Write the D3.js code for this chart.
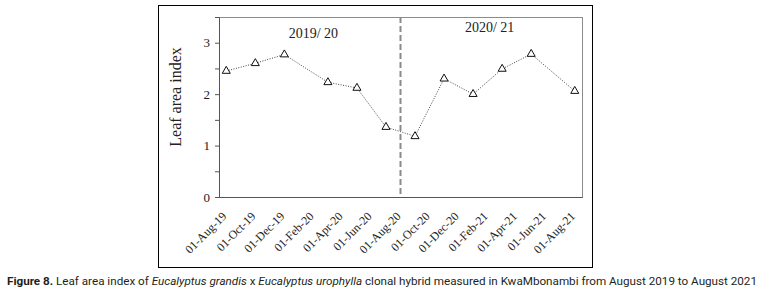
<!DOCTYPE html>
<meta charset="utf-8" />
<script src="https://d3js.org/d3.v7.min.js"></script>
<style>
  body { margin: 0; background: #fff; }
</style>
<div id="chart"></div>
<script>
  // data (sampling month, leaf area index)
  const dates = ["2019-08", "2019-10", "2019-12", "2020-03", "2020-05", "2020-07",
                 "2020-09", "2020-11", "2021-01", "2021-03", "2021-05", "2021-08"];
  const lai = [2.45, 2.60, 2.77, 2.23, 2.12, 1.36, 1.18, 2.30, 2.00, 2.49, 2.78, 2.06];
  const tickLabels = ["01-Aug-19", "01-Oct-19", "01-Dec-19", "01-Feb-20", "01-Apr-20",
                      "01-Jun-20", "01-Aug-20", "01-Oct-20", "01-Dec-20", "01-Feb-21",
                      "01-Apr-21", "01-Jun-21", "01-Aug-21"];
  const seasons = ["2019/ 20", "2020/ 21"];
  const splitMonth = "2020-08";

  const W = 763, H = 295;
  const margin = { top: 17, left: 219, right: 181, bottom: 98 };
  const width = W - margin.left - margin.right,
    height = H - margin.top - margin.bottom;

  const svg = d3.select("#chart").append("svg")
    .attr("width", W).attr("height", H);

  // outer frame
  svg.append("rect")
    .attr("x", 158.5).attr("y", 5.5)
    .attr("width", 434).attr("height", 262)
    .attr("fill", "none").attr("stroke", "#000").attr("stroke-width", 1);

  const g = svg.append("g")
    .attr("transform", `translate(${margin.left},${margin.top})`);

  // monthly date axis (each month same width, like the spreadsheet)
  const parse = d3.timeParse("%Y-%m");
  const fmtKey = d3.timeFormat("%Y-%m");
  const months = d3.timeMonth.range(parse("2019-08"), parse("2021-09")).map(fmtKey);
  const x = d3.scaleBand().domain(months).range([0, width]).padding(0);
  const xc = (m) => x(m) + x.bandwidth() / 2;
  const y = d3.scaleLinear().domain([0, 3.5]).range([height, 0]);

  // plot area border
  g.append("rect")
    .attr("x", 0.5).attr("y", 0.5)
    .attr("width", width).attr("height", height)
    .attr("fill", "none").attr("stroke", "#8c8c8c").attr("stroke-width", 1);

  // y axis
  const yAxis = g.append("g")
    .call(d3.axisLeft(y).tickValues(d3.range(0, 3.51, 0.5)).tickSize(4)
      .tickFormat((d) => (d % 1 === 0 ? d : "")));
  yAxis.select(".domain").attr("stroke", "#555");
  yAxis.selectAll(".tick line").attr("stroke", "#555");
  yAxis.selectAll("text")
    .attr("font-family", "Liberation Serif, Times New Roman, serif")
    .attr("font-size", 13).attr("fill", "#222").attr("x", -9);

  // x axis
  const labelMonths = months.filter((m, i) => i % 2 === 0);
  const xAxis = g.append("g")
    .attr("transform", `translate(0,${height})`)
    .call(d3.axisBottom(x).tickValues(labelMonths).tickSize(0)
      .tickFormat((d, i) => tickLabels[i]));
  xAxis.select(".domain").attr("stroke", "#555");
  xAxis.selectAll("text")
    .attr("font-family", "Liberation Serif, Times New Roman, serif")
    .attr("font-size", 12).attr("fill", "#222")
    .attr("text-anchor", "end")
    .attr("dy", 0).attr("y", 0)
    .attr("transform", "translate(1,20) rotate(-45)");

  // season split
  g.append("line")
    .attr("x1", xc(splitMonth)).attr("x2", xc(splitMonth))
    .attr("y1", 0).attr("y2", height)
    .attr("stroke", "#8a8a8a").attr("stroke-width", 2)
    .attr("stroke-dasharray", "6,3");

  // season labels
  g.selectAll(".season")
    .data(seasons)
    .join("text")
    .attr("x", (d, i) => (i === 0 ? xc("2020-02") : xc("2021-02") + 2))
    .attr("y", (d, i) => (i === 0 ? 21 : 15))
    .attr("text-anchor", "middle")
    .attr("font-family", "Liberation Serif, Times New Roman, serif")
    .attr("font-size", 14).attr("fill", "#222")
    .text((d) => d);

  // dotted line
  const line = d3.line()
    .x((d, i) => xc(dates[i]))
    .y((d) => y(d));
  g.append("path")
    .datum(lai)
    .attr("d", line)
    .attr("fill", "none").attr("stroke", "#444")
    .attr("stroke-width", 1).attr("stroke-dasharray", "1,1.5");

  // triangle markers
  const tri = d3.symbol().type(d3.symbolTriangle).size(28);
  g.selectAll(".pt")
    .data(lai)
    .join("path")
    .attr("class", "pt")
    .attr("d", tri)
    .attr("transform", (d, i) => `translate(${xc(dates[i])},${y(d)})`)
    .attr("fill", "#fff").attr("stroke", "#111").attr("stroke-width", 1);

  // y axis title
  svg.append("text")
    .attr("transform", `translate(181,${margin.top + height / 2 - 10}) rotate(-90)`)
    .attr("text-anchor", "middle")
    .attr("font-family", "Liberation Serif, Times New Roman, serif")
    .attr("font-size", 16).attr("fill", "#222")
    .text("Leaf area index");

  // caption
  const cap = svg.append("text")
    .attr("x", 7).attr("y", 285)
    .attr("font-family", "Liberation Sans Narrow, Roboto, Arial, sans-serif")
    .attr("font-size", 11).attr("fill", "#231f20")
    .attr("textLength", 750).attr("lengthAdjust", "spacingAndGlyphs");
  cap.append("tspan").attr("font-weight", "bold").text("Figure 8.");
  cap.append("tspan").text(" Leaf area index of ");
  cap.append("tspan").attr("font-style", "italic").text("Eucalyptus grandis");
  cap.append("tspan").text(" x ");
  cap.append("tspan").attr("font-style", "italic").text("Eucalyptus urophylla");
  cap.append("tspan").text(" clonal hybrid measured in KwaMbonambi from August 2019 to August 2021");
</script>
